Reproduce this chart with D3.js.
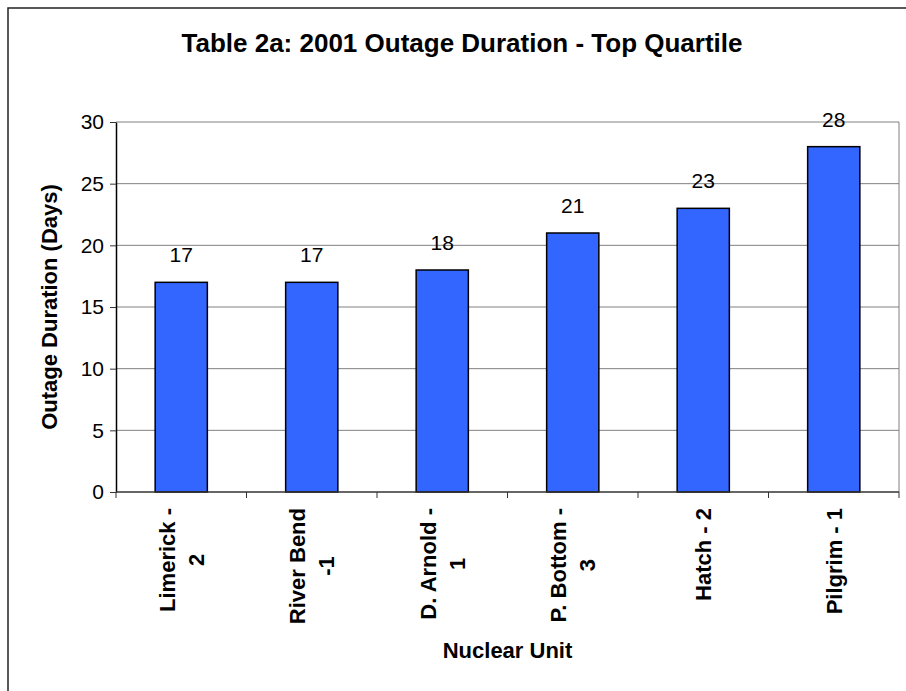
<!DOCTYPE html>
<html>
<head>
<meta charset="utf-8">
<script src="https://d3js.org/d3.v7.min.js"></script>
<style>
  body { margin: 0; background: #fff; }
  svg text { font-family: "Liberation Sans", Arial, sans-serif; fill: #000; }
</style>
</head>
<body>
<div id="chart"></div>
<script>
(function() {
    // --- dados ---
    const categories = [["Limerick -", "2"], ["River Bend", "-1"], ["D. Arnold -", "1"], ["P. Bottom -", "3"], ["Hatch - 2"], ["Pilgrim - 1"]];
    const durations = [17, 17, 18, 21, 23, 28];
    const yTicks = [0, 5, 10, 15, 20, 25, 30];

    const width = 906, height = 691;
    const plot = { left: 116, right: 899, top: 122, bottom: 492 };

    const svg = d3.select("#chart").append("svg")
        .attr("width", width)
        .attr("height", height);

    // moldura externa (corta fora da janela à direita e embaixo)
    svg.append("rect")
        .attr("x", 8).attr("y", 8)
        .attr("width", 940).attr("height", 720)
        .attr("fill", "#fff")
        .attr("stroke", "#222")
        .attr("stroke-width", 1.5);

    const x = d3.scaleBand()
        .domain(d3.range(categories.length))
        .range([plot.left, plot.right])
        .padding(0);

    const y = d3.scaleLinear()
        .domain([0, 30])
        .range([plot.bottom, plot.top]);

    // grade
    svg.append("g")
        .selectAll("line")
        .data(yTicks.filter(d => d > 0))
        .join("line")
        .attr("x1", plot.left).attr("x2", plot.right)
        .attr("y1", d => y(d)).attr("y2", d => y(d))
        .attr("stroke", "#808080")
        .attr("stroke-width", 1);

    // borda direita da área do gráfico
    svg.append("line")
        .attr("x1", plot.right).attr("x2", plot.right)
        .attr("y1", plot.top).attr("y2", plot.bottom)
        .attr("stroke", "#808080");

    // barras
    const barW = x.bandwidth() * 0.4;
    svg.append("g")
        .selectAll("rect")
        .data(durations)
        .join("rect")
        .attr("x", (d, i) => x(i) + (x.bandwidth() - barW) / 2)
        .attr("y", d => y(d))
        .attr("width", barW)
        .attr("height", d => y(0) - y(d))
        .attr("fill", "#3366FF")
        .attr("stroke", "#000")
        .attr("stroke-width", 1.5);

    // rótulos de valor
    svg.append("g")
        .selectAll("text")
        .data(durations)
        .join("text")
        .attr("x", (d, i) => x(i) + x.bandwidth() / 2)
        .attr("y", d => y(d) - 20)
        .attr("text-anchor", "middle")
        .attr("font-size", "21px")
        .text(d => d);

    // eixo Y
    const yAxis = svg.append("g")
        .attr("transform", `translate(${plot.left},0)`)
        .call(d3.axisLeft(y).tickValues(yTicks).tickSize(6).tickSizeOuter(0));
    yAxis.select(".domain").attr("stroke", "#000").attr("stroke-width", 1.5);
    yAxis.selectAll(".tick line").attr("stroke", "#333");
    yAxis.selectAll(".tick text")
        .attr("font-size", "21px")
        .attr("font-family", "Liberation Sans, Arial, sans-serif")
        .attr("fill", "#000")
        .attr("x", -12);

    // eixo X (ticks nas divisões das categorias)
    svg.append("line")
        .attr("x1", plot.left).attr("x2", plot.right)
        .attr("y1", plot.bottom).attr("y2", plot.bottom)
        .attr("stroke", "#333").attr("stroke-width", 1.5);
    const bounds = d3.range(categories.length + 1).map(i => plot.left + i * x.step());
    svg.append("g")
        .selectAll("line")
        .data(bounds)
        .join("line")
        .attr("x1", d => d).attr("x2", d => d)
        .attr("y1", plot.bottom).attr("y2", plot.bottom + 6)
        .attr("stroke", "#333");

    // rótulos das categorias (rotacionados, linhas centralizadas)
    const lineGap = 29;
    const labelTop = 508;
    categories.forEach((lines, i) => {
        const cx = x(i) + x.bandwidth() / 2;
        const g = svg.append("g");
        const texts = lines.map((t, j) => g.append("text")
            .attr("font-size", "22px")
            .attr("font-weight", "bold")
            .attr("text-anchor", "middle")
            .text(t));
        const maxLen = d3.max(texts, t => t.node().getComputedTextLength());
        const cy = labelTop + maxLen / 2;
        const n = lines.length;
        texts.forEach((t, j) => {
            const bx = cx + 8 + (j - (n - 1) / 2) * lineGap;
            t.attr("transform", `translate(${bx},${cy}) rotate(-90)`);
        });
    });

    // títulos
    svg.append("text")
        .attr("x", 462).attr("y", 52)
        .attr("text-anchor", "middle")
        .attr("font-size", "26px")
        .attr("font-weight", "bold")
        .text("Table 2a: 2001 Outage Duration - Top Quartile");

    svg.append("text")
        .attr("x", (plot.left + plot.right) / 2).attr("y", 658)
        .attr("text-anchor", "middle")
        .attr("font-size", "22px")
        .attr("font-weight", "bold")
        .text("Nuclear Unit");

    svg.append("text")
        .attr("transform", `translate(57,${(plot.top + plot.bottom) / 2}) rotate(-90)`)
        .attr("text-anchor", "middle")
        .attr("font-size", "22px")
        .attr("font-weight", "bold")
        .text("Outage Duration (Days)");
})();
</script>
</body>
</html>
